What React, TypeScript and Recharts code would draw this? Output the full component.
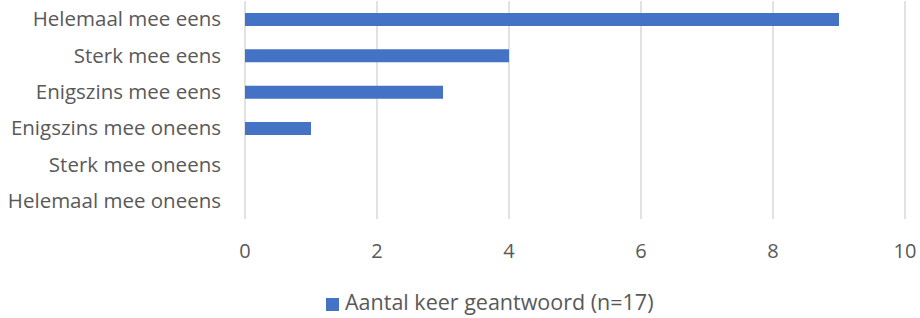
import React from 'react';
import { BarChart, Bar, XAxis, YAxis, CartesianGrid, Legend } from 'recharts';

const categories = [
  'Helemaal mee eens',
  'Sterk mee eens',
  'Enigszins mee eens',
  'Enigszins mee oneens',
  'Sterk mee oneens',
  'Helemaal mee oneens',
];
const counts = [9, 4, 3, 1, 0, 0];
const xTicks = [0, 2, 4, 6, 8, 10];
const seriesName = 'Aantal keer geantwoord (n=17)';

const data = categories.map((name, i) => ({ name, value: counts[i] }));

const FONT = '"Open Sans", "Noto Sans", sans-serif';
const TEXT = '#595959';
const BLUE = '#4472C4';

const LegendBox = () => (
  <div
    style={{
      height: 27,
      display: 'flex',
      justifyContent: 'flex-start',
      alignItems: 'center',
      paddingLeft: 326,
      fontFamily: FONT,
      fontSize: 21.5,
      color: TEXT,
    }}
  >
    <span style={{ width: 13, height: 13, background: BLUE, display: 'inline-block', marginRight: 6, marginTop: 5 }} />
    <span>{seriesName}</span>
  </div>
);

export default function App() {
  return (
    <div style={{ position: 'absolute', left: 0, top: 0, width: 920, height: 318, background: '#fff' }}>
      <BarChart
        width={920}
        height={318}
        data={data}
        layout="vertical"
        barSize={13}
        margin={{ top: 1, right: 15, bottom: 0, left: 0 }}
      >
        <CartesianGrid horizontal={false} stroke="#d9d9d9" strokeWidth={1.5} />
        <XAxis
          type="number"
          domain={[0, 10]}
          ticks={xTicks}
          axisLine={false}
          tickLine={false}
          tickSize={0}
          tickMargin={25}
          height={72}
          tick={{ fill: TEXT, fontSize: 20, fontFamily: FONT }}
        />
        <YAxis
          type="category"
          dataKey="name"
          width={245}
          axisLine={false}
          tickLine={false}
          tickSize={0}
          tickMargin={24}
          tick={{ fill: TEXT, fontSize: 20.5, fontFamily: FONT }}
        />
        <Legend content={<LegendBox />} wrapperStyle={{ top: 288, left: 0, width: 920 }} />
        <Bar dataKey="value" name={seriesName} fill={BLUE} isAnimationActive={false} />
      </BarChart>
    </div>
  );
}
